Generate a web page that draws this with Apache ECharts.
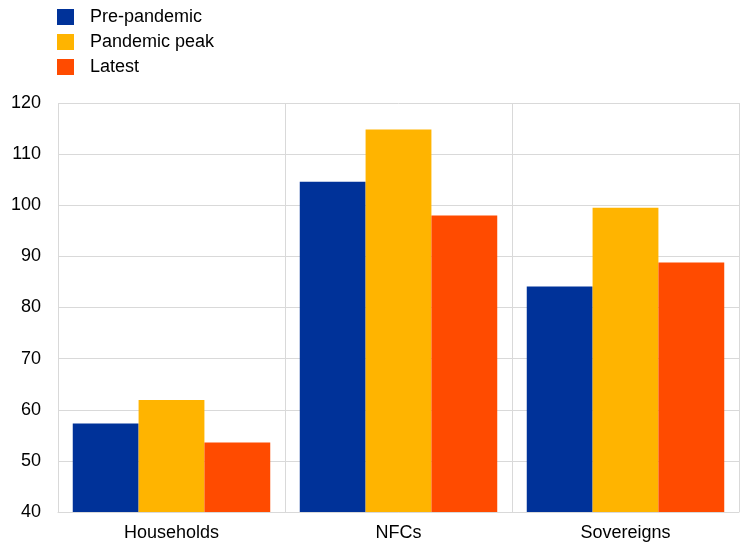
<!DOCTYPE html>
<html>
<head>
<meta charset="utf-8">
<script src="https://cdn.jsdelivr.net/npm/echarts@6/dist/echarts.min.js"></script>
<style>html,body{margin:0;padding:0;background:#fff}#c{width:740px;height:547px}</style>
</head>
<body>
<div id="c"></div>
<script>
var categories = ['Households', 'NFCs', 'Sovereigns'];
var seriesNames = ['Pre-pandemic', 'Pandemic peak', 'Latest'];
var prePandemic = [57.3, 104.6, 84.1];
var pandemicPeak = [61.9, 114.8, 99.5];
var latest = [53.6, 98.0, 88.8];
var colors = ['#003299', '#FFB400', '#FF4B00'];

var values = [prePandemic, pandemicPeak, latest];
var chart = echarts.init(document.getElementById('c'));
var font = 'Liberation Sans, Arial, sans-serif';
chart.setOption({
  animation: false,
  legend: {
    orient: 'vertical',
    left: 57,
    top: 8,
    padding: 0,
    itemWidth: 17,
    itemHeight: 16,
    itemGap: 7,
    icon: 'rect',
    textStyle: { fontFamily: font, fontSize: 18, color: '#000', height: 16, lineHeight: 16, padding: [0, 0, 0, 11] },
    data: seriesNames
  },
  grid: { left: 58, right: 1, top: 103, bottom: 35, containLabel: false },
  xAxis: {
    type: 'category',
    data: categories,
    axisLine: { show: true, lineStyle: { color: '#d9d9d9', width: 1 } },
    axisTick: { show: false },
    splitLine: { show: true, lineStyle: { color: '#d9d9d9', width: 1 } },
    axisLabel: { fontFamily: font, fontSize: 18, color: '#000', margin: 12 }
  },
  yAxis: {
    type: 'value',
    min: 40,
    max: 120,
    interval: 10,
    axisLine: { show: false },
    axisTick: { show: false },
    splitLine: { show: true, lineStyle: { color: '#d9d9d9', width: 1 } },
    axisLabel: { fontFamily: font, fontSize: 18, color: '#000', margin: 17 }
  },
  series: seriesNames.map(function (n, i) {
    return {
      name: n,
      type: 'bar',
      data: values[i],
      barGap: '0%',
      barCategoryGap: '13%',
      itemStyle: { color: colors[i] }
    };
  })
});
</script>
</body>
</html>
